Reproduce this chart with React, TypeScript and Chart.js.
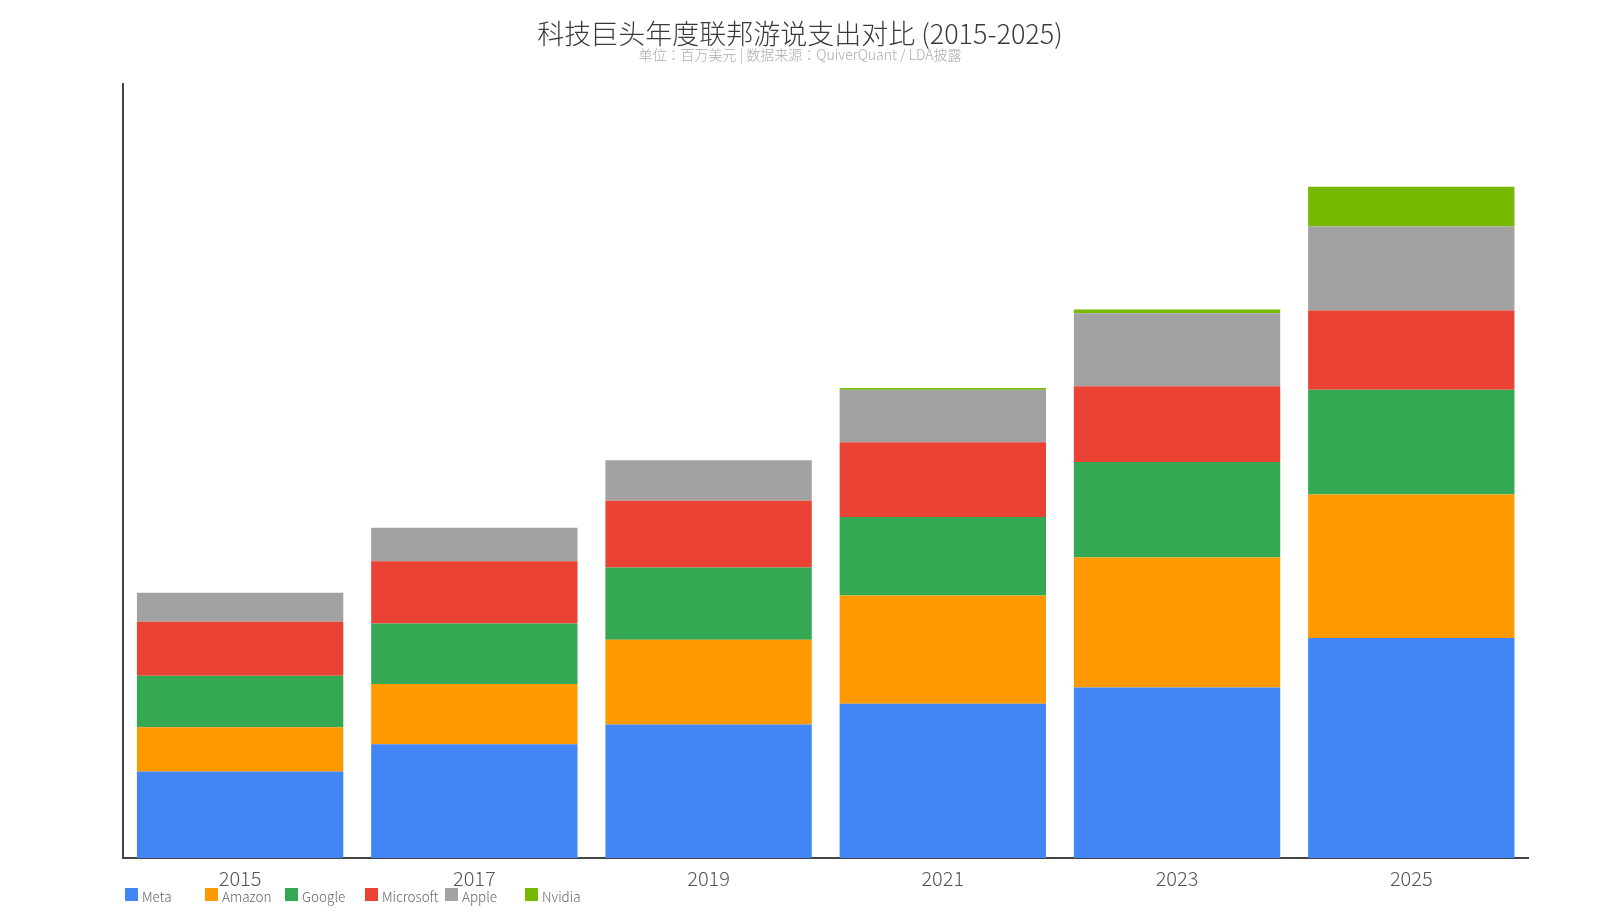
import React, { useRef, useEffect } from 'react';
import { Chart, registerables } from 'chart.js';

Chart.register(...registerables);

// Units: million USD
const YEARS = ['2015', '2017', '2019', '2021', '2023', '2025'];

const META = [9.6, 12.6, 14.8, 17.1, 18.9, 24.4];
const AMAZON = [4.9, 6.7, 9.4, 12.0, 14.4, 15.9];
const GOOGLE = [5.7, 6.7, 8.0, 8.7, 10.6, 11.6];
const MICROSOFT = [6.0, 6.9, 7.4, 8.3, 8.4, 8.8];
const APPLE = [3.2, 3.7, 4.5, 5.8, 8.1, 9.3];
const NVIDIA = [0, 0, 0, 0.2, 0.4, 4.4];

const COMPANIES = ['Meta', 'Amazon', 'Google', 'Microsoft', 'Apple', 'Nvidia'];
const COLORS = ['#4285F4', '#FF9900', '#34A853', '#EA4335', '#A2A2A2', '#76B900'];
const SERIES = [META, AMAZON, GOOGLE, MICROSOFT, APPLE, NVIDIA];

const Y_MAX = 85.8;

const FONT = '"Noto Sans CJK JP", "Noto Sans CJK SC", "Noto Sans", sans-serif';

export default function App() {
    const canvasRef = useRef<HTMLCanvasElement>(null);

    useEffect(() => {
        const ctx = canvasRef.current?.getContext('2d');
        if (!ctx) return;

        const chart = new Chart(ctx, {
            type: 'bar',
            data: {
                labels: YEARS,
                datasets: COMPANIES.map((name, i) => ({
                    label: name,
                    data: SERIES[i],
                    backgroundColor: COLORS[i],
                    borderWidth: 0,
                    barPercentage: 0.881,
                    categoryPercentage: 1.0,
                })),
            },
            options: {
                animation: false,
                responsive: true,
                maintainAspectRatio: false,
                layout: {
                    padding: { left: 0, right: 0, top: 0, bottom: 16 }
                },
                plugins: {
                    legend: { display: false },
                    tooltip: { enabled: false },
                    title: {
                        display: true,
                        text: '科技巨头年度联邦游说支出对比 (2015-2025)',
                        color: '#3a3a3a',
                        font: { family: FONT, size: 27, weight: '300', lineHeight: 1 },
                        padding: { top: 20, bottom: 0 },
                    },
                    subtitle: {
                        display: true,
                        text: '单位：百万美元 | 数据来源：QuiverQuant / LDA披露',
                        color: '#aaaaaa',
                        font: { family: FONT, size: 14, weight: '300', lineHeight: 1 },
                        padding: { top: 1, bottom: 22 },
                    },
                },
                scales: {
                    x: {
                        stacked: true,
                        grid: { display: false, drawTicks: false },
                        border: { display: true, color: '#444444', width: 2 },
                        ticks: {
                            color: '#555555',
                            padding: 8,
                            font: { family: FONT, size: 20, weight: '300' },
                        },
                    },
                    y: {
                        stacked: true,
                        min: 0,
                        max: Y_MAX,
                        grid: { display: false, drawTicks: false },
                        border: { display: true, color: '#444444', width: 2 },
                        ticks: { display: false },
                        afterFit: (scale) => { scale.width = 123; },
                    },
                    // empty right-hand axis, only reserves the right margin
                    yRight: {
                        position: 'right',
                        min: 0,
                        max: Y_MAX,
                        grid: { display: false, drawTicks: false },
                        border: { display: false },
                        ticks: { display: false },
                        afterFit: (scale) => { scale.width = 71.6; },
                    },
                },
            },
        });

        return () => chart.destroy();
    }, []);

    return (
        <div style={{ position: 'fixed', left: 0, top: 0, width: 1600, height: 914, background: '#fff' }}>
            <canvas ref={canvasRef}></canvas>
            <div style={{ position: 'absolute', left: 125, top: 888, display: 'flex', fontFamily: FONT, fontWeight: 300 }}>
                {COMPANIES.map((name, i) => (
                    <div key={name} style={{ width: 80, display: 'flex', alignItems: 'center', height: 13 }}>
                        <span style={{ width: 13, height: 13, background: COLORS[i], display: 'inline-block', marginRight: 4, flexShrink: 0 }}></span>
                        <span style={{ fontSize: 13.5, color: '#666', lineHeight: '13px', whiteSpace: 'nowrap', position: 'relative', top: 2 }}>{name}</span>
                    </div>
                ))}
            </div>
        </div>
    );
}
